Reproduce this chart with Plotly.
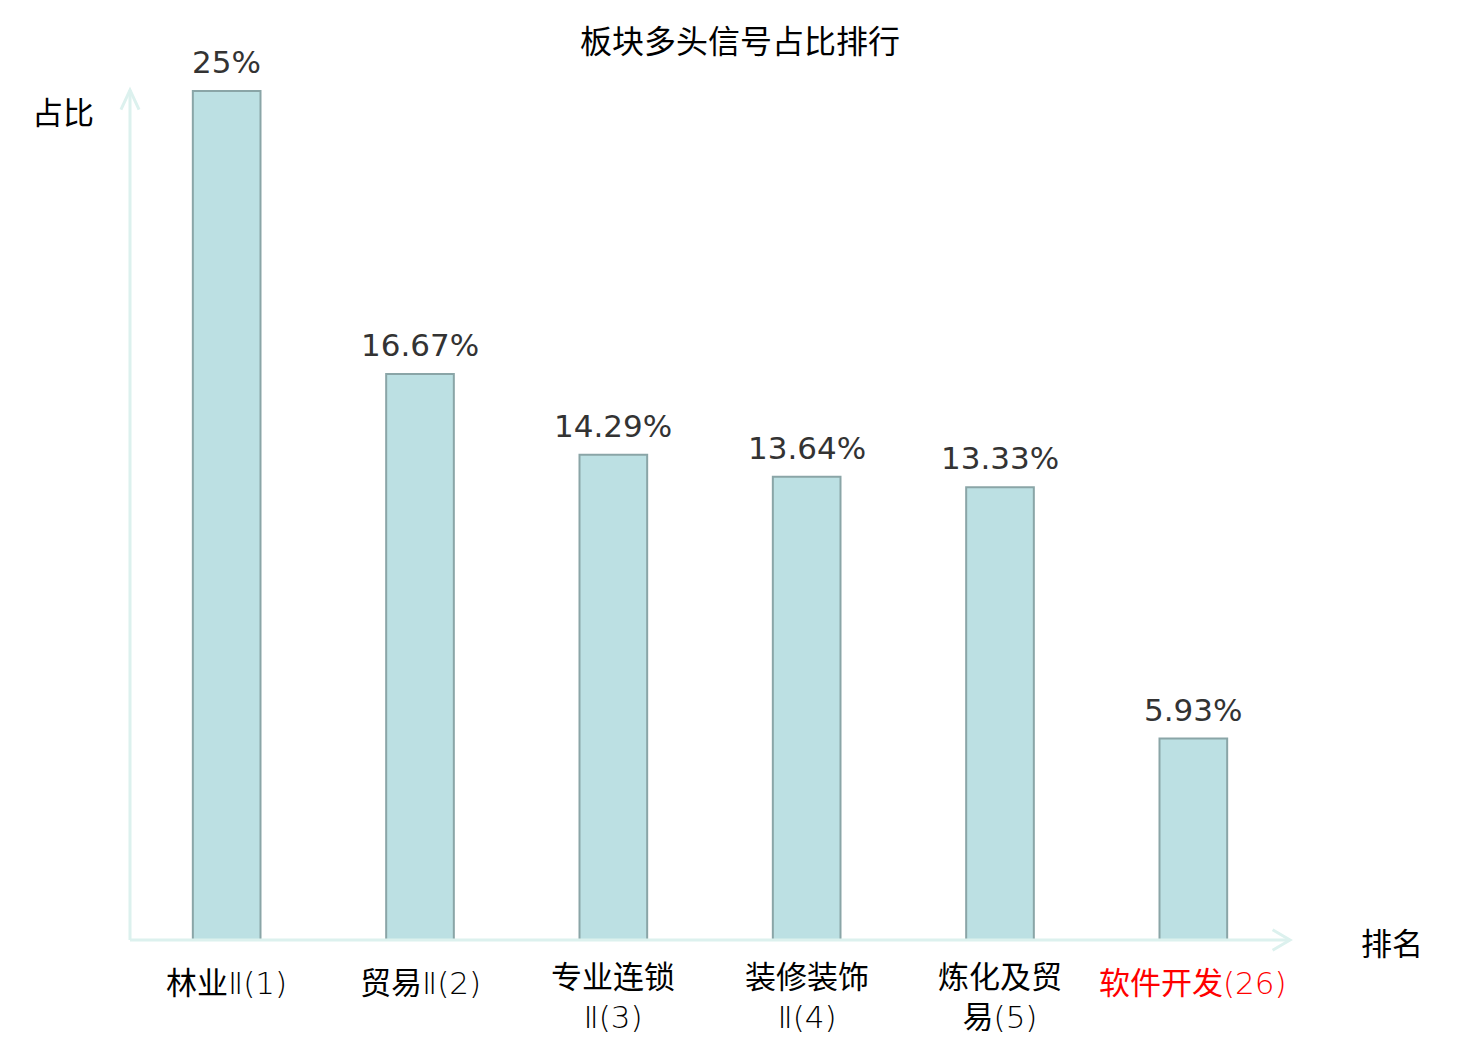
import plotly.graph_objects as go

title_text = "板块多头信号占比排行"
categories = ["林业Ⅱ(1)", "贸易Ⅱ(2)", "专业连锁<br>Ⅱ(3)", "装修装饰<br>Ⅱ(4)", "炼化及贸<br>易(5)", "软件开发(26)"]
values = [25, 16.67, 14.29, 13.64, 13.33, 5.93]
value_labels = ["25%", "16.67%", "14.29%", "13.64%", "13.33%", "5.93%"]
highlight = [False, False, False, False, False, True]
y_label = "占比"
x_label = "排名"

FONT = "DejaVu Sans, Noto Sans CJK SC, sans-serif"
TICKFONT = "DejaVu Sans ExtraLight, DejaVu Sans Light, Noto Sans CJK SC, sans-serif"
CJK = "Noto Sans CJK SC, sans-serif"
AXIS_COLOR = "#dcf1ee"

x_idx = list(range(len(categories)))

fig = go.Figure()
fig.add_trace(go.Bar(
    x=x_idx, y=values, width=0.35,
    marker=dict(color="#bce0e3", line=dict(color="#8aa5a7", width=2)),
    hoverinfo="skip",
))

for i, (v, lab) in enumerate(zip(values, value_labels)):
    fig.add_annotation(x=i, y=v, text=lab, showarrow=False, yanchor="bottom",
                       yshift=9, font=dict(size=31, color="#333333", family=FONT))

# category labels
for i, (c, h) in enumerate(zip(categories, highlight)):
    nlines = len(c.split("<br>"))
    fig.add_annotation(x=i, xref="x", yref="paper", y=0, text=c, showarrow=False,
                       xanchor="center", yanchor="middle", yshift=-43 - 14 * (nlines - 1),
                       font=dict(size=31, color="#ff0000" if h else "#000000",
                                 family=TICKFONT))

# axis lines with arrows (paper coordinates)
fig.add_shape(type="line", xref="paper", yref="paper", x0=0, y0=0, x1=1.0, y1=0,
              line=dict(color=AXIS_COLOR, width=3))
fig.add_shape(type="line", xref="paper", yref="paper", x0=0, y0=0, x1=0, y1=1.0,
              line=dict(color=AXIS_COLOR, width=3))
fig.add_shape(type="path", xref="paper", yref="paper",
              path="M 0.985,0.012 L 1.0,0 L 0.985,-0.012",
              line=dict(color=AXIS_COLOR, width=3))
fig.add_shape(type="path", xref="paper", yref="paper",
              path="M -0.0078,0.977 L 0,1.0 L 0.0078,0.977",
              line=dict(color=AXIS_COLOR, width=3))

fig.add_annotation(xref="paper", yref="paper", x=0, y=1, xshift=-67, yshift=-20, text=y_label,
                   xanchor="center", yanchor="middle",
                   showarrow=False, font=dict(size=31, color="#000000", family=CJK))
fig.add_annotation(xref="paper", yref="paper", x=1, y=0, xshift=102, yshift=-1, text=x_label,
                   xanchor="center", yanchor="middle",
                   showarrow=False, font=dict(size=31, color="#000000", family=CJK))

fig.update_layout(
    width=1480, height=1040,
    paper_bgcolor="white", plot_bgcolor="white",
    margin=dict(l=122, r=198, t=82, b=108),
    title=dict(text=title_text, x=0.5 - 8 / 1480, xanchor="center", y=1 - 34 / 1040,
               yanchor="middle", font=dict(size=32, color="#000000", family=CJK)),
    xaxis=dict(range=[-0.5, 5.5], showgrid=False, zeroline=False, showline=False,
               showticklabels=False, ticks=""),
    yaxis=dict(range=[0, 25.03], showgrid=False, zeroline=False, showline=False,
               showticklabels=False, ticks=""),
    showlegend=False,
    font=dict(family=FONT),
)

fig.write_html("out.html")
